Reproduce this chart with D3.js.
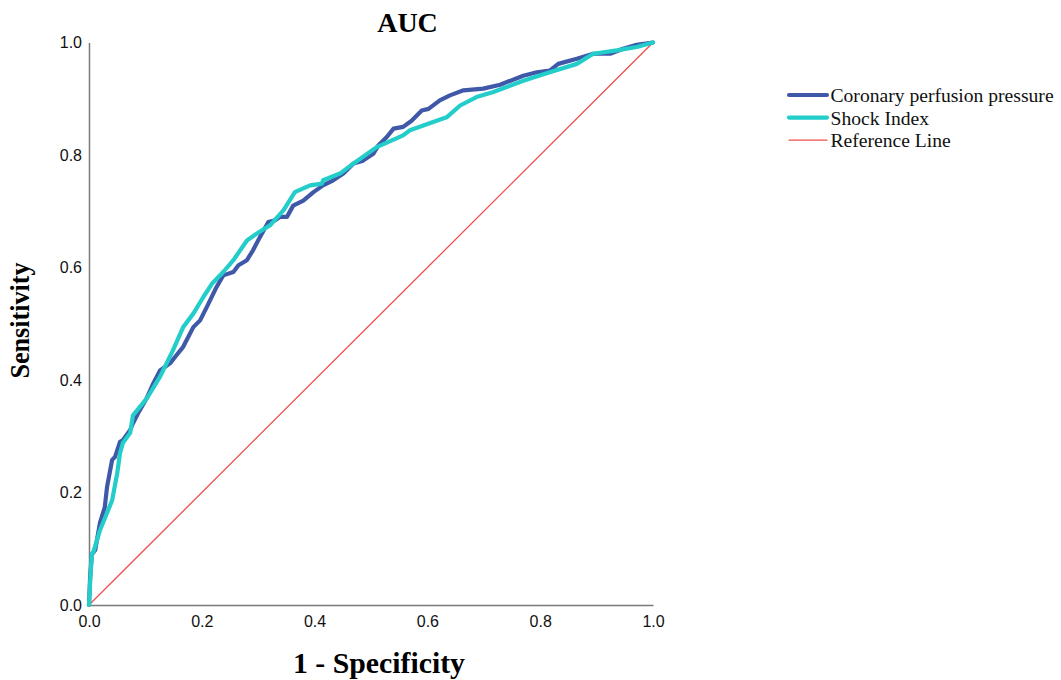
<!DOCTYPE html>
<html><head><meta charset="utf-8">
<script src="https://cdn.jsdelivr.net/npm/d3@7"></script>
<style>body{margin:0;background:#fff}</style>
</head><body><svg id="c" width="1061" height="680"></svg>
<script>
const tickValues = [0, 0.2, 0.4, 0.6, 0.8, 1.0];
const seriesNames = ["Coronary perfusion pressure", "Shock Index", "Reference Line"];
const cppFpr = [0,0.002,0.005,0.011,0.0195,0.028,0.032,0.041,0.046,0.055,0.060,0.073,0.078,0.087,0.102,0.114,0.126,0.144,0.155,0.167,0.185,0.197,0.209,0.226,0.238,0.256,0.265,0.280,0.291,0.303,0.318,0.330,0.339,0.351,0.362,0.380,0.398,0.415,0.433,0.451,0.469,0.486,0.504,0.513,0.528,0.540,0.557,0.572,0.590,0.602,0.622,0.640,0.664,0.699,0.729,0.770,0.794,0.817,0.832,0.865,0.894,0.924,0.947,0.971,1];
const cppTpr = [0,0.05,0.09,0.098,0.146,0.174,0.210,0.258,0.263,0.290,0.293,0.311,0.323,0.341,0.367,0.394,0.417,0.430,0.444,0.459,0.494,0.506,0.530,0.565,0.586,0.592,0.604,0.613,0.631,0.654,0.681,0.684,0.690,0.690,0.710,0.719,0.734,0.746,0.755,0.767,0.785,0.790,0.802,0.817,0.832,0.847,0.850,0.861,0.879,0.882,0.897,0.906,0.915,0.918,0.925,0.941,0.947,0.950,0.962,0.971,0.980,0.980,0.989,0.996,1];
const siFpr = [0,0.002,0.005,0.008,0.0195,0.041,0.050,0.055,0.060,0.073,0.078,0.103,0.126,0.149,0.167,0.185,0.203,0.218,0.238,0.256,0.280,0.297,0.321,0.345,0.365,0.392,0.413,0.415,0.445,0.469,0.510,0.557,0.569,0.634,0.658,0.687,0.717,0.770,0.817,0.865,0.894,0.936,0.971,1];
const siTpr = [0,0.04,0.09,0.095,0.133,0.186,0.234,0.270,0.288,0.306,0.337,0.368,0.406,0.453,0.494,0.518,0.548,0.571,0.592,0.613,0.648,0.660,0.675,0.702,0.734,0.746,0.749,0.755,0.767,0.785,0.814,0.835,0.844,0.867,0.888,0.903,0.912,0.932,0.947,0.962,0.980,0.986,0.992,1];
const refFpr = [0, 1];
const refTpr = [0, 1];

const svg = d3.select("#c");
const x = d3.scaleLinear().domain([0,1]).range([89,653]);
const y = d3.scaleLinear().domain([0,1]).range([605,42.5]);
const colors = ["#3f58a8", "#22cdca", "#ef4d4d"];
const widths = [4.2, 4.2, 1.3];

const axisColor = "#7a7a7a";
const sans = "'Liberation Sans', Arial, sans-serif";
const xa = svg.append("g").attr("transform","translate(0,605)")
  .call(d3.axisBottom(x).tickValues(tickValues).tickSize(0).tickPadding(11).tickFormat(d3.format(".1f")));
const ya = svg.append("g").attr("transform","translate(89,0)")
  .call(d3.axisLeft(y).tickValues(tickValues).tickSize(0).tickPadding(7).tickFormat(d3.format(".1f")));
[xa, ya].forEach(a => {
  a.select(".domain").attr("stroke", axisColor).attr("stroke-width", 1.5);
  a.selectAll("text").attr("font-family",sans).attr("font-size", 16).attr("fill","#111");
});

const line = d3.line().x(d => x(d[0])).y(d => y(d[1]));
const ref = refFpr.map((v,i)=>[v, refTpr[i]]);
const cpp = cppFpr.map((v,i)=>[v, cppTpr[i]]);
const si = siFpr.map((v,i)=>[v, siTpr[i]]);
const drawn = [[ref,2],[cpp,0],[si,1]];
drawn.forEach(([d,k]) => {
  svg.append("path").datum(d).attr("d", line).attr("fill","none")
    .attr("stroke", colors[k]).attr("stroke-width", widths[k])
    .attr("stroke-linejoin","round").attr("stroke-linecap","round");
});

const serif = "'Liberation Serif', 'Times New Roman', serif";
svg.append("text").attr("x",407.5).attr("y",32).attr("text-anchor","middle")
  .attr("font-family",serif).attr("font-weight","bold").attr("font-size",28).text("AUC");
svg.append("text").attr("x",379).attr("y",673).attr("text-anchor","middle")
  .attr("font-family",serif).attr("font-weight","bold").attr("font-size",29)
  .attr("textLength",172).attr("lengthAdjust","spacingAndGlyphs").text("1 - Specificity");
svg.append("text").attr("transform","translate(29,320.5) rotate(-90)").attr("text-anchor","middle")
  .attr("font-family",serif).attr("font-weight","bold").attr("font-size",28)
  .attr("textLength",116).attr("lengthAdjust","spacingAndGlyphs").text("Sensitivity");

const lg = svg.append("g");
seriesNames.forEach((n,i) => {
  const yy = 95 + i*22.6;
  lg.append("line").attr("x1",789).attr("x2",827).attr("y1",yy).attr("y2",yy)
    .attr("stroke",colors[i]).attr("stroke-width", i<2 ? 4.2 : 1.3).attr("stroke-linecap","round");
  lg.append("text").attr("x",830.5).attr("y",yy+7).attr("font-family",serif)
    .attr("font-size",19.6).attr("fill","#111").text(n);
});
</script>
</body></html>
